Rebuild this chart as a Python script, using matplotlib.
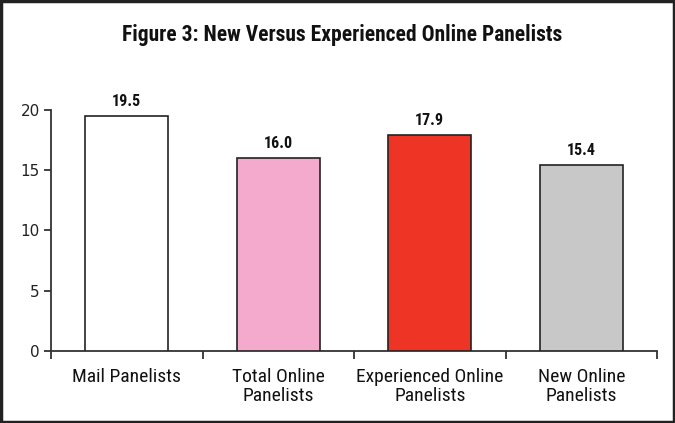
import matplotlib
matplotlib.use("Agg")
import matplotlib.pyplot as plt
from matplotlib.patches import Rectangle

categories = ["Mail Panelists", "Total Online\nPanelists", "Experienced Online\nPanelists", "New Online\nPanelists"]
values = [19.5, 16.0, 17.9, 15.4]
colors = ["#FFFFFF", "#F4AACC", "#EE3425", "#C8C8C8"]
yticks = [0, 5, 10, 15, 20]

narrow = ["Roboto Condensed", "DejaVu Sans"]

fig = plt.figure(figsize=(6.75, 4.23), dpi=100)
ax = fig.add_axes([51/675, 72/423, (657-51)/675, (351-110)/423])

x = list(range(len(values)))
ax.bar(x, values, width=0.55, color=colors, edgecolor="#222222", linewidth=1.2, zorder=3)
for xi, v in zip(x, values):
    ax.text(xi, v + 0.6, f"{v:.1f}", ha="center", va="bottom", fontsize=11.5,
            family=narrow, fontweight="bold", color="#111111")

ax.set_xlim(-0.5, 3.5)
ax.set_ylim(0, 20)
ax.set_yticks(yticks)
ax.set_yticklabels([str(t) for t in yticks], fontsize=11, color="#222222")
ax.set_xticks([i - 0.5 for i in range(len(values) + 1)])
ax.set_xticklabels([])
ax.set_xticks(x, minor=True)
ax.set_xticklabels(categories, minor=True, fontsize=14, family=narrow, color="#111111",
                   linespacing=1.1)
ax.tick_params(axis="x", which="minor", length=0, pad=12)
ax.tick_params(axis="x", which="major", length=6, width=1.3, color="#333333")
ax.tick_params(axis="y", length=5, width=1.3, color="#333333", pad=3)
for s in ["top", "right"]:
    ax.spines[s].set_visible(False)
for s in ["left", "bottom"]:
    ax.spines[s].set_linewidth(1.3)
    ax.spines[s].set_color("#333333")

fig.text(0.507, 1 - 35/423, "Figure 3: New Versus Experienced Online Panelists", ha="center", va="center",
         fontsize=15.5, fontweight="bold", family=narrow, color="#111111")

fig.patches.append(Rectangle((0.0015, 0.0025), 0.997, 0.995, transform=fig.transFigure,
                             fill=False, edgecolor="#222222", linewidth=2.5))

fig.savefig("out.png", dpi=100)
